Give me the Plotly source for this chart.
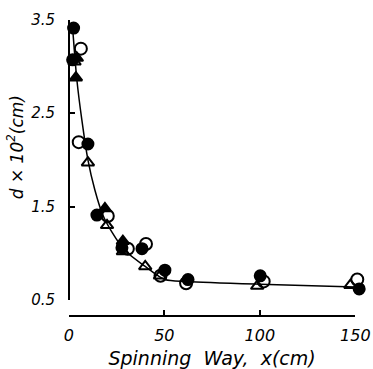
import plotly.graph_objects as go

# Fibre diameter d (x10^2 cm) against distance along the spinning way x (cm)
x_filled_circle = [2.5, 2.0, 10.0, 14.7, 27.8, 38.3, 50.3, 62.4, 100.2, 152.0]
y_filled_circle = [3.41, 3.07, 2.17, 1.41, 1.06, 1.05, 0.82, 0.72, 0.76, 0.62]

x_open_circle = [6.3, 5.2, 20.4, 30.9, 40.4, 48.0, 61.4, 102.0, 151.0]
y_open_circle = [3.19, 2.19, 1.40, 1.05, 1.10, 0.76, 0.68, 0.70, 0.72]

x_filled_triangle = [4.2, 3.7, 18.9, 28.3]
y_filled_triangle = [3.09, 2.88, 1.48, 1.13]

x_open_triangle = [3.0, 10.0, 20.0, 28.3, 40.0, 47.7, 98.6, 147.4]
y_open_triangle = [3.05, 1.97, 1.30, 1.02, 0.86, 0.76, 0.65, 0.66]

# Smooth trend line through the measurements
x_curve = [2.0, 4.2, 6.8, 10.0, 13.6, 17.8, 22.5, 29.4, 40.0, 50.3, 61.9, 100.0, 150.0]
y_curve = [3.41, 2.86, 2.43, 2.00, 1.68, 1.41, 1.23, 1.03, 0.86, 0.72, 0.70, 0.67, 0.64]

x_ticks = [0, 50, 100, 150]
y_ticks = [0.5, 1.5, 2.5, 3.5]

FONT = "DejaVu Sans"
ink = "black"

# Data frame of the plot (a little wider than the drawn axes so edge markers show)
X_MIN, X_MAX = -2, 154
Y_MIN, Y_MAX = 0.33, 3.55
# Drawn axes: x from 0 to 150 along the bottom, y from 0.5 to 3.5 at x = 0
X_AX = (0, 150)
Y_AX = (0.5, 3.5)

def frac(v, lo, hi):
    return (v - lo) / (hi - lo)

fig = go.Figure()

fig.add_trace(go.Scatter(
    x=x_curve, y=y_curve, mode="lines",
    line=dict(color=ink, width=1.5, shape="spline", smoothing=0.8),
    hoverinfo="skip", cliponaxis=False,
))

marker_sets = [
    (x_open_triangle, y_open_triangle, "triangle-up-open", 11),
    (x_filled_triangle, y_filled_triangle, "triangle-up", 11),
    (x_open_circle, y_open_circle, "circle-open", 12),
    (x_filled_circle, y_filled_circle, "circle", 11),
]
for xs, ys, sym, sz in marker_sets:
    fig.add_trace(go.Scatter(
        x=xs, y=ys, mode="markers", cliponaxis=False,
        marker=dict(symbol=sym, size=sz, color=ink,
                    line=dict(color=ink, width=2)),
    ))

# Empty trace that carries the drawn axes (x2 / y2)
fig.add_trace(go.Scatter(x=[None], y=[None], xaxis="x2", yaxis="y2",
                         mode="markers", hoverinfo="skip"))

fig.add_annotation(
    text="<i>d × 10<sup>2</sup>(cm)</i>", xref="paper", yref="paper",
    x=-0.165, y=0.56, xanchor="center", yanchor="middle",
    textangle=-90, showarrow=False,
    font=dict(family=FONT, size=17, color=ink),
)

hidden = dict(visible=False, showgrid=False, zeroline=False, automargin=False)

fig.update_layout(
    width=373, height=369,
    margin=dict(l=65.2, r=10.3, t=15.3, b=53),
    paper_bgcolor="white", plot_bgcolor="rgba(0,0,0,0)",
    showlegend=False,
    xaxis=dict(range=[X_MIN, X_MAX], domain=[0, 1], **hidden),
    yaxis=dict(range=[Y_MIN, Y_MAX], domain=[0, 1], **hidden),
    xaxis2=dict(
        domain=[frac(X_AX[0], X_MIN, X_MAX), frac(X_AX[1], X_MIN, X_MAX)],
        range=list(X_AX), anchor="free", position=0, side="bottom",
        tickvals=x_ticks, ticktext=[str(v) for v in x_ticks],
        showline=True, linecolor=ink, linewidth=1.5,
        ticks="inside", ticklen=5, tickwidth=1.5, tickcolor=ink,
        showgrid=False, zeroline=False, automargin=False,
        ticklabelstandoff=5,
        tickfont=dict(family=FONT, size=16, color=ink, style="italic"),
        title=dict(text="Spinning  Way,  x(cm)", standoff=7,
                   font=dict(family=FONT, size=19, color=ink, style="italic")),
    ),
    yaxis2=dict(
        domain=[frac(Y_AX[0], Y_MIN, Y_MAX), frac(Y_AX[1], Y_MIN, Y_MAX)],
        range=list(Y_AX), anchor="free", position=frac(0, X_MIN, X_MAX),
        side="left",
        tickvals=y_ticks, ticktext=[str(v) for v in y_ticks],
        showline=True, linecolor=ink, linewidth=1.5,
        ticks="inside", ticklen=5, tickwidth=1.5, tickcolor=ink,
        showgrid=False, zeroline=False, automargin=False,
        ticklabelstandoff=10,
        tickfont=dict(family=FONT, size=15, color=ink, style="italic"),
    ),
)

fig.write_html("out.html")
